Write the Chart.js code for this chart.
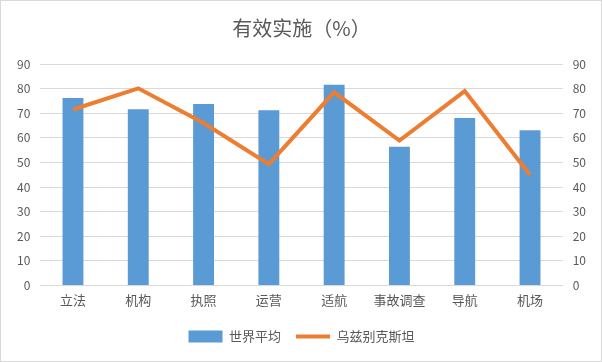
<!DOCTYPE html>
<html>
<head>
<meta charset="utf-8">
<script src="https://cdn.jsdelivr.net/npm/chart.js@4"></script>
<style>
  html, body { margin: 0; padding: 0; background: #fff; }
  #wrap { width: 600px; height: 360px; border: 1px solid #D9D9D9; }
</style>
</head>
<body>
<div id="wrap"><canvas id="myChart" width="600" height="360"></canvas></div>
<script>
const categories = ['立法', '机构', '执照', '运营', '适航', '事故调查', '导航', '机场'];
const worldAvg = [76.2, 71.6, 73.7, 71.2, 81.6, 56.4, 68.0, 63.1];
const uzbekistan = [71.5, 80.1, 66.0, 49.3, 78.5, 58.9, 79.0, 44.9];
const yTicks = [0, 10, 20, 30, 40, 50, 60, 70, 80, 90];

const fontFamily = '"Noto Sans CJK SC", "Liberation Sans", sans-serif';
const grey = '#595959';

/* chart creation */
const ctx = document.getElementById('myChart').getContext('2d');
const myChart = new Chart(ctx, {
    type: 'bar',
    data: {
        labels: categories,
        datasets: [{
            type: 'bar',
            label: '世界平均',
            data: worldAvg,
            backgroundColor: '#5B9BD5',
            borderWidth: 0,
            barPercentage: 0.32,
            categoryPercentage: 1,
            yAxisID: 'y',
            pointStyle: 'rect',
            order: 1
        },
        {
            type: 'line',
            label: '乌兹别克斯坦',
            data: uzbekistan,
            borderColor: '#ED7D31',
            backgroundColor: '#ED7D31',
            borderWidth: 4,
            pointRadius: 0,
            tension: 0,
            yAxisID: 'y',
            pointStyle: 'line',
            order: 0
        }]
    },
    options: {
        responsive: false,
        animation: false,
        layout: { padding: { left: 6, right: 5, top: 0, bottom: 8 } },
        scales: {
            x: {
                grid: { display: false, drawTicks: false },
                border: { color: '#D9D9D9' },
                ticks: { color: grey, font: { family: fontFamily, size: 13 }, padding: 7 }
            },
            y: {
                min: 0,
                max: 90,
                afterBuildTicks: (axis) => { axis.ticks = yTicks.map(v => ({ value: v })); },
                grid: { color: '#D9D9D9', drawTicks: false },
                border: { display: false },
                ticks: { color: grey, font: { family: fontFamily, size: 12 }, padding: 10 }
            },
            y2: {
                position: 'right',
                min: 0,
                max: 90,
                afterBuildTicks: (axis) => { axis.ticks = yTicks.map(v => ({ value: v })); },
                grid: { display: false, drawTicks: false },
                border: { display: false },
                ticks: { color: grey, font: { family: fontFamily, size: 12 }, padding: 10 }
            }
        },
        plugins: {
            title: {
                display: true,
                text: '有效实施（%）',
                color: grey,
                font: { family: fontFamily, size: 20, weight: 'normal' },
                padding: { top: 15, bottom: 24 }
            },
            legend: {
                position: 'bottom',
                reverse: true,
                labels: {
                    usePointStyle: true,
                    pointStyleWidth: 34,
                    boxHeight: 12,
                    color: grey,
                    font: { family: fontFamily, size: 13 },
                    padding: 15
                }
            },
            tooltip: { enabled: false }
        }
    }
});
</script>
</body>
</html>
